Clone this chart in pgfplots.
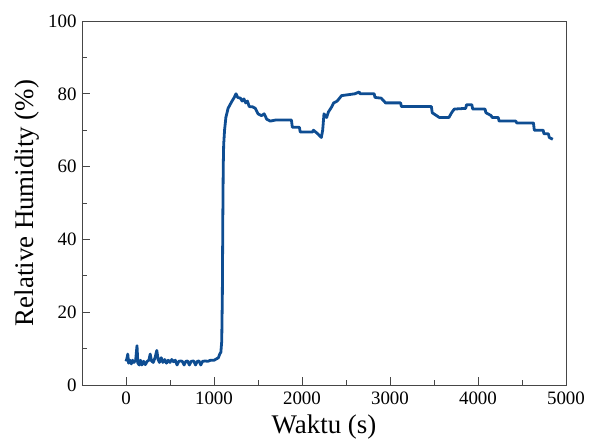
\documentclass[border=0pt]{standalone}
\usepackage{pgfplots}
\pgfplotsset{compat=1.18}
\usepackage{fontspec}
\setmainfont{Liberation Serif}
\definecolor{lineblue}{RGB}{14,77,146}
\definecolor{axgray}{RGB}{70,70,70}
\begin{document}
\begin{tikzpicture}
\useasboundingbox (-82bp,-63bp) rectangle (514bp,385bp);
\begin{axis}[
  at={(0,0)}, anchor=south west,
  scale only axis, width=484bp, height=364bp,
  xmin=-500, xmax=5000, ymin=0, ymax=100,
  xtick={0,1000,2000,3000,4000,5000},
  ytick={0,20,40,60,80,100},
  minor xtick={-500,500,1500,2500,3500,4500},
  minor ytick={10,30,50,70,90},
  xtick pos=left, ytick pos=left,
  tick align=inside,
  major tick length=8bp, minor tick length=5bp,
  axis line style={axgray, line width=0.9bp},
  every tick/.style={axgray, line width=0.9bp},
  /pgf/number format/assume math mode=true,
  /pgf/number format/1000 sep={},
  ticklabel style={font=\fontsize{19}{21}\selectfont},
  xticklabel style={yshift=-3bp},
  yticklabel style={xshift=-2bp},
  label style={font=\fontsize{27}{30}\selectfont},
  xlabel={Waktu (s)},
  ylabel={Relative Humidity (\%)},
  xlabel style={at={(axis description cs:0.5,-0.1154)}, anchor=center},
  ylabel style={at={(axis description cs:-0.1136,0.5)}, anchor=center},
]
\addplot[lineblue, line width=2.8bp, line join=round] coordinates {
(0,6.5) (10,7.2) (20,8.5) (30,6) (45,6.8) (60,5.8) (75,6.8) (90,6.2) (110,6.8)
(125,10.8) (135,6) (150,5.5) (165,6.8) (180,5.5) (200,6.5) (220,5.6) (240,6.5)
(260,6.8) (275,8.5) (290,6.6) (310,6.2) (330,7.5) (350,9.5) (365,7) (380,6.2)
(400,7.5) (420,6.2) (440,7) (460,6) (480,6.8) (500,6.2) (520,7) (540,6.4) (560,6.8)
(580,5.5) (600,6.5) (620,6.6) (640,6.5) (660,5.5) (680,6.5) (700,6.6) (720,5.5)
(740,6.5) (770,6.6) (790,5.5) (810,6.5) (830,6.6) (850,5.5) (870,6.5) (900,6.6)
(930,6.5) (960,6.8) (1000,6.8) (1030,7.2) (1050,7.5) (1065,8.5) (1078,9)
(1088,12) (1095,25) (1100,45) (1105,60) (1110,66) (1120,70) (1135,73.5)
(1160,76) (1200,77.8) (1230,79) (1250,80) (1270,79) (1300,78.8) (1320,78)
(1340,78.6) (1360,77.5) (1380,78) (1400,76.5) (1440,76.4) (1470,76)
(1500,74.5) (1540,74) (1570,74.5) (1600,73) (1640,72.5) (1700,72.8)
(1880,72.8) (1890,70.8) (1970,70.8) (1980,69.5) (2120,69.5) (2130,70)
(2180,69) (2220,68) (2235,70) (2250,74.5) (2280,73.5) (2300,75) (2340,76.5)
(2360,77.5) (2400,78) (2450,79.5) (2600,80) (2650,80.5) (2660,80) (2820,80)
(2830,79) (2900,78.8) (2950,77.5) (3120,77.5) (3130,76.5) (3470,76.5)
(3480,74.8) (3560,73.5) (3670,73.5) (3700,74.8) (3730,75.8) (3860,76)
(3870,77) (3930,77) (3940,75.8) (4080,75.8) (4090,74.8) (4150,74)
(4160,73.5) (4230,73.5) (4240,72.5) (4430,72.5) (4440,72) (4630,72)
(4640,70) (4740,70) (4750,69) (4800,69) (4810,68) (4850,67.5)
};
\end{axis}
\end{tikzpicture}
\end{document}
